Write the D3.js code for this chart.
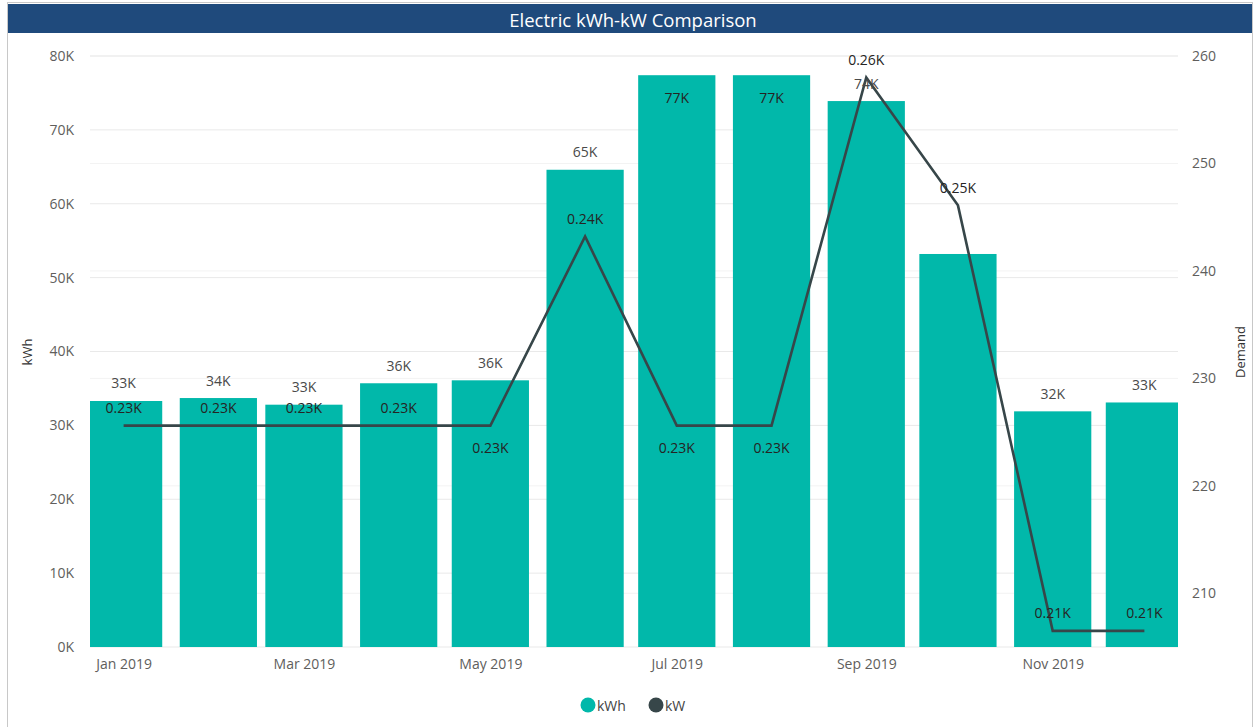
<!DOCTYPE html>
<html>
<head>
<meta charset="utf-8">
<script src="https://cdn.jsdelivr.net/npm/d3@7/dist/d3.min.js"></script>
<style>
  body { margin: 0; background: #fff; }
  svg { display: block; }
  text { font-family: "Open Sans", "Noto Sans", sans-serif; }
</style>
</head>
<body>
<svg id="chart" width="1257" height="727"></svg>
<script>
// Monthly electric consumption (kWh) and peak demand (kW), 2019
const months = ["2019-01-01", "2019-02-01", "2019-03-01", "2019-04-01", "2019-05-01", "2019-06-01",
                "2019-07-01", "2019-08-01", "2019-09-01", "2019-10-01", "2019-11-01", "2019-12-01"];
const kWh = [33300, 33700, 32800, 35700, 36100, 64600, 77400, 77400, 73900, 53200, 31900, 33100];
const kW  = [225.6, 225.6, 225.6, 225.6, 225.6, 243.2, 225.6, 225.6, 258.0, 246.1, 206.5, 206.5];
// which kWh data labels are displayed (hidden where they would crowd the line)
const kWhLabelShown = [true, true, true, true, true, true, true, true, true, false, true, true];
// side of the line each kW data label sits on
const kWLabelSide = ["above", "above", "above", "above", "below", "above",
                     "below", "below", "above", "above", "above", "above"];
const kWhTicks = [0, 10000, 20000, 30000, 40000, 50000, 60000, 70000, 80000];
const kWTicks = [210, 220, 230, 240, 250, 260];
const xTickMonths = ["2019-01-01", "2019-03-01", "2019-05-01", "2019-07-01", "2019-09-01", "2019-11-01"];
const seriesNames = ["kWh", "kW"];

const W = 1257, H = 727;
const plot = { left: 90, right: 1178, top: 56, bottom: 647 };
const barColor = "#01B8AA", lineColor = "#374649";
const tickColor = "#605E5C", labelDark = "#252423";

const parse = d3.timeParse("%Y-%m-%d");
const dates = months.map(parse);
const data = dates.map((d, i) => ({ date: d, kWh: kWh[i], kW: kW[i] }));

const svg = d3.select("#chart");

// outer frame and title band
svg.append("rect").attr("x", 7.5).attr("y", 2.5).attr("width", 1245).attr("height", 730)
  .attr("fill", "#fff").attr("stroke", "#c8c8c8").attr("stroke-width", 1);
svg.append("rect").attr("x", 8).attr("y", 4).attr("width", 1244).attr("height", 29)
  .attr("fill", "#1F4A7C");
svg.append("text").attr("x", 633).attr("y", 19).attr("text-anchor", "middle")
  .attr("dominant-baseline", "central").attr("fill", "#fff")
  .attr("font-size", 18.5).text("Electric kWh-kW Comparison");

// scales
const x = d3.scaleTime()
  .domain([d3.timeDay.offset(dates[0], -11), d3.timeDay.offset(dates[dates.length - 1], 11)])
  .range([plot.left, plot.right]);
const yL = d3.scaleLinear().domain([0, 80000]).range([plot.bottom, plot.top]);
const yR = d3.scaleLinear().domain([205, 260]).range([plot.bottom, plot.top]);
const barW = (x(dates[1]) - x(dates[0])) * 0.815;

const fmtK = v => d3.format(".0f")(v / 1000) + "K";
const fmtKW = v => d3.format(".2f")(v / 1000) + "K";

// gridlines
svg.append("g").selectAll("line").data(kWTicks).join("line")
  .attr("x1", plot.left).attr("x2", plot.right)
  .attr("y1", d => yR(d)).attr("y2", d => yR(d))
  .attr("stroke", "#f3f3f3").attr("stroke-width", 1);
svg.append("g").selectAll("line").data(kWhTicks).join("line")
  .attr("x1", plot.left).attr("x2", plot.right)
  .attr("y1", d => yL(d)).attr("y2", d => yL(d))
  .attr("stroke", "#e9e9e9").attr("stroke-width", 1);

// left axis
const axL = svg.append("g").attr("transform", `translate(${plot.left - 14},0)`)
  .call(d3.axisLeft(yL).tickValues(kWhTicks).tickFormat(fmtK).tickSize(0).tickPadding(2));
axL.select(".domain").remove();
axL.selectAll("text").attr("fill", tickColor).attr("font-size", 14);

// right axis
const axR = svg.append("g").attr("transform", `translate(${plot.right + 12},0)`)
  .call(d3.axisRight(yR).tickValues(kWTicks).tickFormat(d3.format("d")).tickSize(0).tickPadding(2));
axR.select(".domain").remove();
axR.selectAll("text").attr("fill", tickColor).attr("font-size", 14);

// bottom axis
const axB = svg.append("g").attr("transform", `translate(0,${plot.bottom + 6})`)
  .call(d3.axisBottom(x).tickValues(xTickMonths.map(parse)).tickFormat(d3.timeFormat("%b %Y"))
    .tickSize(0).tickPadding(6));
axB.select(".domain").remove();
axB.selectAll("text").attr("fill", tickColor).attr("font-size", 14);

// axis titles
svg.append("text").attr("transform", "translate(27,352) rotate(-90)")
  .attr("text-anchor", "middle").attr("dominant-baseline", "central")
  .attr("fill", "#333").attr("font-size", 13).text("kWh");
svg.append("text").attr("transform", "translate(1240,352) rotate(-90)")
  .attr("text-anchor", "middle").attr("dominant-baseline", "central")
  .attr("fill", "#333").attr("font-size", 13).text("Demand");

// bars, clipped to the plot area
svg.append("clipPath").attr("id", "plotClip").append("rect")
  .attr("x", plot.left).attr("y", 0).attr("width", plot.right - plot.left).attr("height", plot.bottom);
svg.append("g").attr("clip-path", "url(#plotClip)")
  .selectAll("rect").data(data).join("rect")
  .attr("x", d => x(d.date) - barW / 2).attr("width", barW)
  .attr("y", d => yL(d.kWh)).attr("height", d => yL(0) - yL(d.kWh))
  .attr("fill", barColor);

// demand line
svg.append("path").datum(data)
  .attr("d", d3.line().x(d => x(d.date)).y(d => yR(d.kW)))
  .attr("fill", "none").attr("stroke", lineColor).attr("stroke-width", 2.6)
  .attr("stroke-linejoin", "miter");

// kWh data labels
svg.append("g").selectAll("text").data(data.filter((d, i) => kWhLabelShown[i])).join("text")
  .each(function (d) {
    const top = yL(d.kWh);
    const inside = top - 18 < plot.top + 10;
    d3.select(this)
      .attr("x", x(d.date)).attr("y", inside ? top + 22 : top - 18)
      .attr("fill", inside ? labelDark : "#4a4a4a");
  })
  .attr("text-anchor", "middle").attr("dominant-baseline", "central")
  .attr("font-size", 14).text(d => fmtK(d.kWh));

// kW data labels
svg.append("g").selectAll("text").data(data).join("text")
  .attr("x", d => x(d.date))
  .attr("y", (d, i) => yR(d.kW) + (kWLabelSide[i] === "above" ? -18 : 22))
  .attr("text-anchor", "middle").attr("dominant-baseline", "central")
  .attr("fill", labelDark).attr("font-size", 14).text(d => fmtKW(d.kW));

// legend
const legend = svg.append("g");
const legendItems = [
  { name: seriesNames[0], color: barColor, cx: 588 },
  { name: seriesNames[1], color: lineColor, cx: 656 }
];
legend.selectAll("circle").data(legendItems).join("circle")
  .attr("cx", d => d.cx).attr("cy", 705).attr("r", 7.5).attr("fill", d => d.color);
legend.selectAll("text").data(legendItems).join("text")
  .attr("x", d => d.cx + 9).attr("y", 705).attr("dominant-baseline", "central")
  .attr("fill", "#444").attr("font-size", 14).text(d => d.name);
</script>
</body>
</html>
